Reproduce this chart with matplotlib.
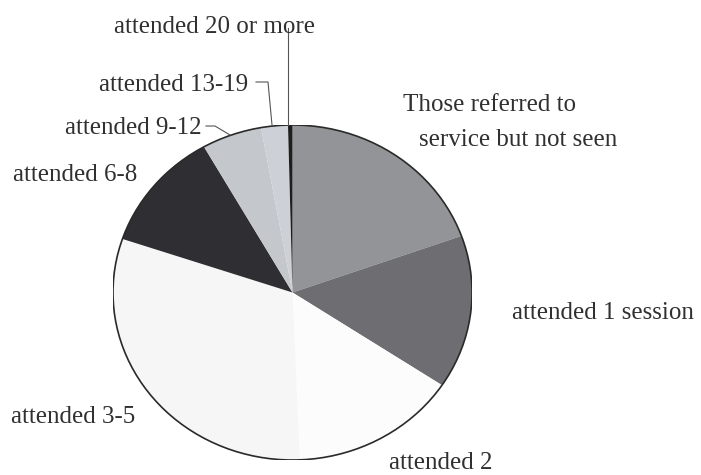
import matplotlib.pyplot as plt
from matplotlib.patches import Circle
from matplotlib.lines import Line2D

# share of referrals by number of sessions attended (%)
categories = ["Those referred to\nservice but not seen", "attended 1 session", "attended 2",
              "attended 3-5", "attended 6-8", "attended 9-12", "attended 13-19",
              "attended 20 or more"]
shares = [19.5, 14.8, 15.0, 30.8, 11.6, 5.4, 2.4, 0.4]
colors = ["#939497", "#6e6e72", "#fcfcfc", "#f6f6f6", "#2f2f33", "#c4c7cc", "#cdd0d6", "#1e1e1e"]

W, H = 701, 475

fig = plt.figure(figsize=(7.01, 4.75), dpi=100)
plt.rcParams['font.family'] = ['Liberation Serif', 'DejaVu Serif']

# pie box in pixels: left, right, top, bottom
px_l, px_r, px_t, px_b = 113, 472, 125, 460
ax = fig.add_axes([px_l / W, 1 - px_b / H, (px_r - px_l) / W, (px_b - px_t) / H])

ax.pie(shares, colors=colors, startangle=90, counterclock=False,
       wedgeprops=dict(linewidth=0, edgecolor='none'))
ax.add_patch(Circle((0, 0), 1, fill=False, edgecolor='#2a2a2a', linewidth=1.2))
ax.set_aspect('auto')
ax.set_xlim(-1, 1)
ax.set_ylim(-1, 1)
ax.axis('off')

def fx(x):
    return x / W

def fy(y):
    return 1 - y / H

txt = dict(fontsize=18, color='#303030', va='center')

# label positions in pixels (x, y, alignment)
label_pos = [
    None,
    (512, 313, 'left'),
    (389, 463, 'left'),
    (11, 417, 'left'),
    (13, 175, 'left'),
    (202, 128, 'right'),
    (248, 85, 'right'),
    (114, 27, 'left'),
]

top_lines = categories[0].split("\n")
fig.text(fx(490), fy(105), top_lines[0], ha='center', **txt)
fig.text(fx(518), fy(140), top_lines[1], ha='center', **txt)

for name, pos in zip(categories[1:], label_pos[1:]):
    x, y, ha = pos
    fig.text(fx(x), fy(y), name, ha=ha, **txt)

# leader lines for the thin slices
leaders = [
    [(206, 126), (215, 126), (230, 135)],
    [(256, 82), (268, 82), (272, 125)],
    [(288, 28), (288, 125)],
]
for pts in leaders:
    xs = [fx(p[0]) for p in pts]
    ys = [fy(p[1]) for p in pts]
    fig.add_artist(Line2D(xs, ys, color='#555555', linewidth=0.8))

fig.savefig("out.png", dpi=100)
